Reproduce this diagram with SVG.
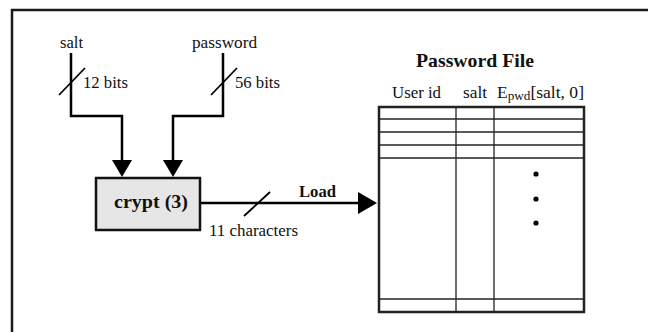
<svg xmlns="http://www.w3.org/2000/svg" width="648" height="332" viewBox="0 0 648 332">
<style>
text{font-family:"Liberation Serif","Times New Roman",serif;fill:#111}
.lbl{font-size:16px}
.b{font-weight:bold}
.wire{fill:none;stroke:#000;stroke-width:2.5}
.tick{stroke:#000;stroke-width:1.8}
.outer{fill:#fff;stroke:#222;stroke-width:2.5}
.inner{stroke:#222;stroke-width:1.3}
</style>
<rect width="648" height="332" fill="#fff"/>
<path d="M12,332 V10 H648" fill="none" stroke="#1a1a1a" stroke-width="2.5"/>

<g id="connectors">
<path class="wire" d="M71,53 V116 H122 V160"/>
<path d="M112,160 L132,160 L122,177 Z" fill="#000"/>
<line class="tick" x1="59" y1="95" x2="85" y2="68"/>
<path class="wire" d="M223,53 V116 H173 V160"/>
<path d="M163,160 L183,160 L173,177 Z" fill="#000"/>
<line class="tick" x1="211" y1="95" x2="237" y2="68"/>
<line class="wire" x1="200" y1="203" x2="359" y2="203"/>
<path d="M358,192 L377,203 L358,214 Z" fill="#000"/>
<line class="tick" x1="244" y1="216" x2="270" y2="192"/>
<text class="lbl b" x="299" y="197" textLength="37" lengthAdjust="spacingAndGlyphs">Load</text>
<text class="lbl" x="209" y="236" textLength="89" lengthAdjust="spacingAndGlyphs">11 characters</text>
</g>

<g id="salt">
<text class="lbl" x="60" y="48" textLength="23" lengthAdjust="spacingAndGlyphs">salt</text>
<text class="lbl" x="83" y="88" textLength="45" lengthAdjust="spacingAndGlyphs">12 bits</text>
</g>
<g id="password">
<text class="lbl" x="192" y="48" textLength="65" lengthAdjust="spacingAndGlyphs">password</text>
<text class="lbl" x="235" y="88" textLength="45" lengthAdjust="spacingAndGlyphs">56 bits</text>
</g>

<g id="crypt">
<rect x="96" y="178" width="104" height="52" fill="#e6e6e6" stroke="#111" stroke-width="2.5"/>
<text x="114" y="208" font-size="18" font-weight="bold" textLength="74" lengthAdjust="spacingAndGlyphs">crypt (3)</text>
</g>

<g id="password-file">
<text x="416" y="67" font-size="19" font-weight="bold" textLength="118" lengthAdjust="spacingAndGlyphs">Password File</text>
<text class="lbl" x="392" y="98" textLength="49" lengthAdjust="spacingAndGlyphs">User id</text>
<text class="lbl" x="463" y="98" textLength="24" lengthAdjust="spacingAndGlyphs">salt</text>
<text class="lbl" x="497" y="98" textLength="87" lengthAdjust="spacingAndGlyphs">E<tspan font-size="12" dy="2">pwd</tspan><tspan dy="-2">[salt, 0]</tspan></text>
<rect class="outer" x="379" y="107" width="205" height="205"/>
<line class="inner" x1="379" y1="119" x2="584" y2="119"/>
<line class="inner" x1="379" y1="132" x2="584" y2="132"/>
<line class="inner" x1="379" y1="145" x2="584" y2="145"/>
<line class="inner" x1="379" y1="158" x2="584" y2="158"/>
<line class="inner" x1="379" y1="299" x2="584" y2="299"/>
<line class="inner" x1="456" y1="107" x2="456" y2="312"/>
<line class="inner" x1="494" y1="107" x2="494" y2="312"/>
<circle cx="536" cy="174" r="2.6" fill="#000"/>
<circle cx="536" cy="199" r="2.6" fill="#000"/>
<circle cx="536" cy="223" r="2.6" fill="#000"/>
</g>
</svg>
